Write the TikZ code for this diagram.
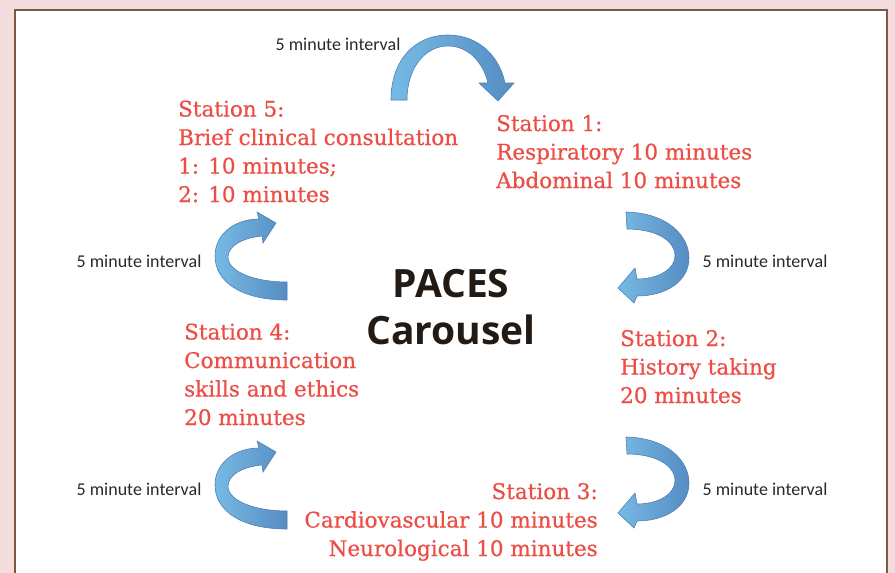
\documentclass[tikz,border=0pt]{standalone}
\usepackage{fontspec}
\setmainfont[FakeBold=0.6]{DejaVu Serif}
\newfontfamily\intervalfont{Carlito}
\newfontfamily\titlefont{Open Sans}
\usetikzlibrary{positioning}
\definecolor{stationred}{RGB}{236,78,70}
\definecolor{intervalgray}{RGB}{45,40,38}
\definecolor{titleblack}{RGB}{35,26,20}
\definecolor{pagepink}{RGB}{244,221,223}
\definecolor{framebrown}{RGB}{125,90,60}
\definecolor{curllight}{RGB}{118,186,228}
\definecolor{curldark}{RGB}{86,140,194}
\definecolor{curledge}{RGB}{80,128,182}
\tikzset{station/.style={text=stationred, inner sep=0pt, font=\fontsize{21.5}{28.5}\selectfont},
  interval/.style={text=intervalgray, inner sep=0pt, font=\intervalfont\fontsize{18}{20}\selectfont},
  carousel/.style={text=titleblack, inner sep=0pt, font=\titlefont\bfseries\fontsize{39}{47}\selectfont},
  curl/.style={left color=curllight, right color=curldark, draw=curledge, line width=0.6pt}}

\begin{document}
\begin{tikzpicture}[x=1pt, y=-1pt]
    \useasboundingbox (0,0) rectangle (895,573);
    \clip (0,0) rectangle (895,573);
    \fill[pagepink] (0,0) rectangle (895,573);
    \draw[framebrown, line width=2.5pt, fill=white] (15,10) rectangle (887,600);

        % stations (base = last line)
        \node[station, anchor=base west, align=left] (st5) at (178,202)
            {Station 5:\\Brief clinical consultation\\1: 10 minutes;\\2: 10 minutes};
        \node[station, anchor=base west, align=left] (st1) at (496,188)
            {Station 1:\\Respiratory 10 minutes\\Abdominal 10 minutes};
        \node[station, anchor=base west, align=left] (st2) at (620,403)
            {Station 2:\\History taking\\20 minutes};
        \node[station, anchor=base east, align=right] (st3) at (598,556)
            {Station 3:\\Cardiovascular 10 minutes\\Neurological 10 minutes};
        \node[station, anchor=base west, align=left] (st4) at (184,425)
            {Station 4:\\Communication\\skills and ethics\\20 minutes};

        \node[carousel, anchor=base, align=center] (paces) at (451,344) {PACES\\Carousel};

        % intervals
        \node[interval, anchor=base] (int51) at (338,50) {5 minute interval};
        \node[interval, anchor=base] (int12) at (765,267) {5 minute interval};
        \node[interval, anchor=base] (int23) at (765,495) {5 minute interval};
        \node[interval, anchor=base] (int34) at (139,495) {5 minute interval};
        \node[interval, anchor=base] (int45) at (139,267) {5 minute interval};

        % curved arrows
        \draw[curl] (391,100) .. controls (391,60) and (415,35) .. (448,35)
            .. controls (480,35) and (500,58) .. (505,83) -- (514,83) -- (498,101) -- (479,83) -- (488,83)
            .. controls (483,62) and (468,46) .. (448,46) .. controls (425,46) and (407,68) .. (407,100) -- cycle;
        \foreach \dy in {0,225}
            \draw[curl, shift={(0,\dy)}] (626,212) .. controls (668,213) and (689,236) .. (689,258)
                .. controls (689,282) and (665,296) .. (637,296) -- (634,303) -- (618,288) -- (635,268) -- (637,279)
                .. controls (660,279) and (675,268) .. (675,256) .. controls (675,240) and (655,229) .. (627,229) -- cycle;
        \foreach \dy in {0,229}
            \draw[curl, shift={(0,\dy)}] (287,300) .. controls (240,300) and (215,281) .. (215,256)
                .. controls (215,234) and (235,219) .. (259,219) -- (257,212) -- (276,223) -- (263,243) -- (262,236)
                .. controls (242,238) and (228,246) .. (228,257) .. controls (228,272) and (255,282) .. (287,282) -- cycle;
\end{tikzpicture}
\end{document}
